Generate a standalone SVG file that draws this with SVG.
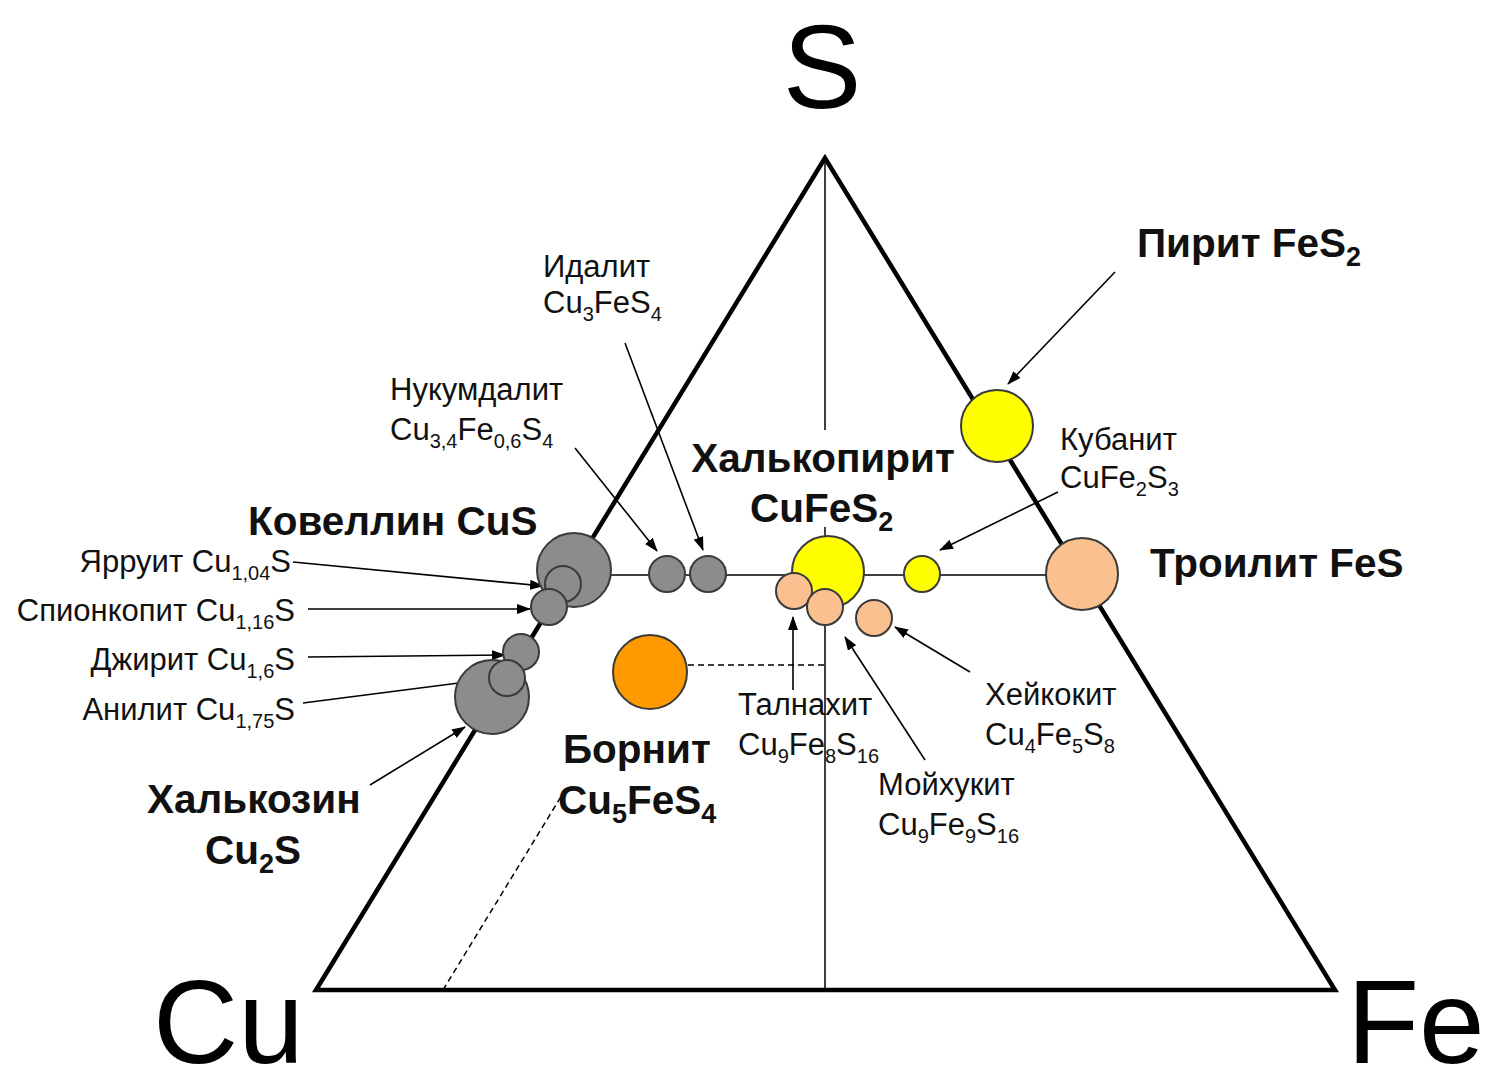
<svg xmlns="http://www.w3.org/2000/svg" width="1498" height="1081" viewBox="0 0 1498 1081">
<defs>
<marker id="ah" viewBox="0 0 14 10" refX="13" refY="5" markerWidth="14" markerHeight="10" markerUnits="userSpaceOnUse" orient="auto">
<path d="M0,0 L14,5 L0,10 Z" fill="#000"/>
</marker>
</defs>
<style>
.r{font-family:"Liberation Sans",Arial,sans-serif;font-size:31px;fill:#111}
.b{font-family:"Liberation Sans",Arial,sans-serif;font-size:40.5px;font-weight:bold;fill:#111}
.big{font-family:"Liberation Sans",Arial,sans-serif;font-size:118px;fill:#000}
.sr{font-size:20px}
.sb{font-size:27px}
.arr{stroke:#000;stroke-width:1.6;fill:none;marker-end:url(#ah)}
.thin{stroke:#000;stroke-width:1.5;fill:none}
.dash{stroke:#000;stroke-width:1.5;stroke-dasharray:6,4;fill:none}
.g{fill:#8c8c8c;stroke:#3a3a3a;stroke-width:2}
.y{fill:#ffff00;stroke:#3a3a3a;stroke-width:2}
.t{fill:#fac090;stroke:#3a3a3a;stroke-width:2}
.o{fill:#ff9900;stroke:#3a3a3a;stroke-width:2}
</style>
<rect width="1498" height="1081" fill="#fff"/>
<g id="frame">
<polygon points="825,158 316,990 1335,990" fill="none" stroke="#000" stroke-width="4.5" stroke-linejoin="miter"/>
<line class="thin" x1="825" y1="158" x2="825" y2="430"/>
<line class="thin" x1="825" y1="527" x2="825" y2="990"/>
<line class="thin" x1="570" y1="575" x2="1081" y2="575"/>
<line class="dash" x1="688" y1="665" x2="825" y2="665"/>
<line class="dash" x1="443" y1="990" x2="562" y2="795"/>
</g>
<g id="connectors">
<line class="arr" x1="1115" y1="272" x2="1008" y2="384"/>
<line class="arr" x1="1058" y1="492" x2="940" y2="550"/>
<line class="arr" x1="970" y1="672" x2="895" y2="627"/>
<line class="arr" x1="925" y1="760" x2="845" y2="637"/>
<line class="arr" x1="793" y1="690" x2="793" y2="617"/>
<line class="arr" x1="625" y1="343" x2="703" y2="550"/>
<line class="arr" x1="575" y1="448" x2="657" y2="551"/>
<line class="arr" x1="293" y1="562" x2="543" y2="586"/>
<line class="arr" x1="308" y1="609" x2="530" y2="609"/>
<line class="arr" x1="308" y1="657" x2="505" y2="655"/>
<line class="arr" x1="303" y1="703" x2="490" y2="679"/>
<line class="arr" x1="370" y1="785" x2="465" y2="727"/>
</g>
<g id="covellite"><circle class="g" cx="574" cy="570" r="37"/></g>
<g id="yarrowite"><circle class="g" cx="563" cy="584" r="18"/></g>
<g id="spionkopite"><circle class="g" cx="549" cy="607" r="18"/></g>
<g id="chalcocite"><circle class="g" cx="492" cy="697" r="37"/></g>
<g id="geerite"><circle class="g" cx="521" cy="652" r="18"/></g>
<g id="anilite"><circle class="g" cx="507" cy="678" r="18"/></g>
<g id="nukundamite"><circle class="g" cx="667" cy="574" r="18"/></g>
<g id="idaite"><circle class="g" cx="708" cy="574" r="18"/></g>
<g id="chalcopyrite"><circle class="y" cx="828" cy="572" r="36"/></g>
<g id="talnakhite"><circle class="t" cx="794" cy="591" r="18"/></g>
<g id="mooihoekite"><circle class="t" cx="825" cy="607" r="18"/></g>
<g id="haycockite"><circle class="t" cx="874" cy="618" r="18"/></g>
<g id="cubanite"><circle class="y" cx="922" cy="574" r="18"/></g>
<g id="pyrite"><circle class="y" cx="997" cy="426" r="36"/></g>
<g id="troilite"><circle class="t" cx="1082" cy="574" r="36"/></g>
<g id="bornite"><circle class="o" cx="650" cy="672" r="37"/></g>
<g id="labels">
<text class="big" x="822" y="108" text-anchor="middle">S</text>
<text class="big" x="153" y="1063">Cu</text>
<text class="big" x="1347" y="1063">Fe</text>
<text class="b" x="1137" y="257">Пирит FeS<tspan class="sb" dy="9">2</tspan></text>
<text class="b" x="1150" y="577">Троилит FeS</text>
<text class="b" x="823" y="472" text-anchor="middle">Халькопирит</text>
<text class="b" x="750" y="522">CuFeS<tspan class="sb" dy="9">2</tspan></text>
<text class="b" x="248" y="535">Ковеллин CuS</text>
<text class="b" x="563" y="763">Борнит</text>
<text class="b" x="558" y="814">Cu<tspan class="sb" dy="9">5</tspan><tspan dy="-9">FeS</tspan><tspan class="sb" dy="9">4</tspan></text>
<text class="b" x="147" y="813">Халькозин</text>
<text class="b" x="205" y="864">Cu<tspan class="sb" dy="9">2</tspan><tspan dy="-9">S</tspan></text>
<text class="r" x="543" y="277">Идалит</text>
<text class="r" x="543" y="313">Cu<tspan class="sr" dy="8">3</tspan><tspan dy="-8">FeS</tspan><tspan class="sr" dy="8">4</tspan></text>
<text class="r" x="390" y="400">Нукумдалит</text>
<text class="r" x="390" y="440">Cu<tspan class="sr" dy="8">3,4</tspan><tspan dy="-8">Fe</tspan><tspan class="sr" dy="8">0,6</tspan><tspan dy="-8">S</tspan><tspan class="sr" dy="8">4</tspan></text>
<text class="r" x="1060" y="450">Кубанит</text>
<text class="r" x="1060" y="488">CuFe<tspan class="sr" dy="8">2</tspan><tspan dy="-8">S</tspan><tspan class="sr" dy="8">3</tspan></text>
<text class="r" x="985" y="705">Хейкокит</text>
<text class="r" x="985" y="745">Cu<tspan class="sr" dy="8">4</tspan><tspan dy="-8">Fe</tspan><tspan class="sr" dy="8">5</tspan><tspan dy="-8">S</tspan><tspan class="sr" dy="8">8</tspan></text>
<text class="r" x="878" y="795">Мойхукит</text>
<text class="r" x="878" y="835">Cu<tspan class="sr" dy="8">9</tspan><tspan dy="-8">Fe</tspan><tspan class="sr" dy="8">9</tspan><tspan dy="-8">S</tspan><tspan class="sr" dy="8">16</tspan></text>
<text class="r" x="738" y="715">Талнахит</text>
<text class="r" x="738" y="755">Cu<tspan class="sr" dy="8">9</tspan><tspan dy="-8">Fe</tspan><tspan class="sr" dy="8">8</tspan><tspan dy="-8">S</tspan><tspan class="sr" dy="8">16</tspan></text>
<text class="r" x="291" y="572" text-anchor="end">Ярруит Cu<tspan class="sr" dy="8">1,04</tspan><tspan dy="-8">S</tspan></text>
<text class="r" x="295" y="621" text-anchor="end">Спионкопит Cu<tspan class="sr" dy="8">1,16</tspan><tspan dy="-8">S</tspan></text>
<text class="r" x="295" y="670" text-anchor="end">Джирит Cu<tspan class="sr" dy="8">1,6</tspan><tspan dy="-8">S</tspan></text>
<text class="r" x="295" y="720" text-anchor="end">Анилит Cu<tspan class="sr" dy="8">1,75</tspan><tspan dy="-8">S</tspan></text>
</g>
</svg>
